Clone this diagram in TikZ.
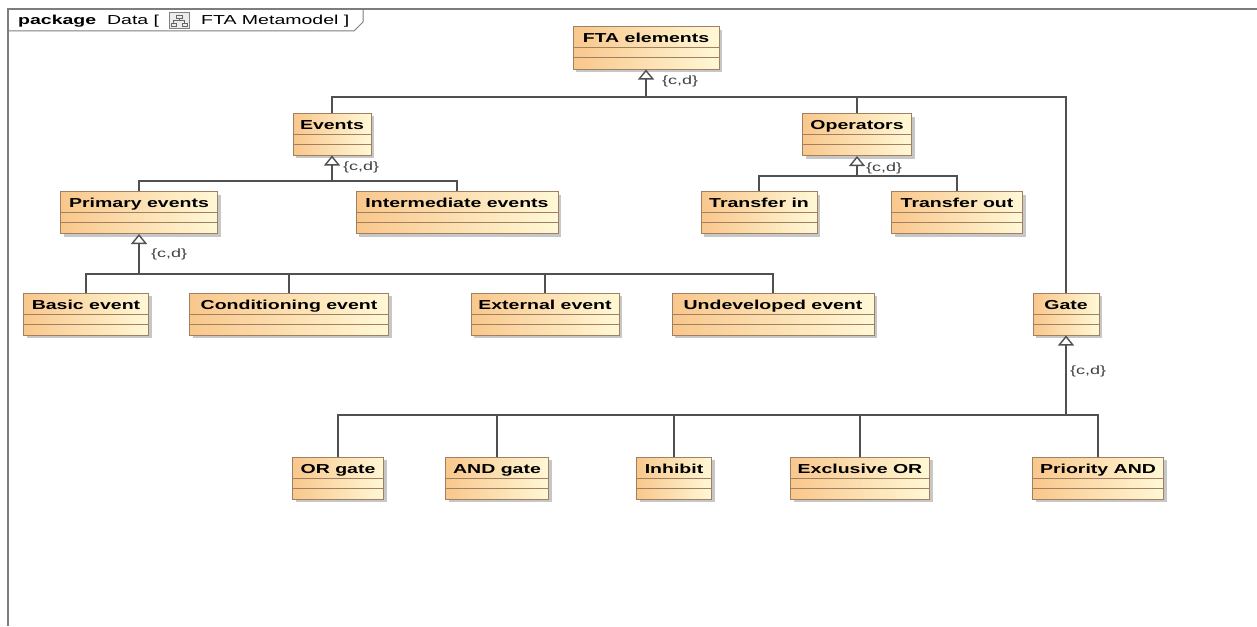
\documentclass[tikz,border=0pt]{standalone}
\usepackage{fontspec}
\setmainfont{Liberation Sans}
\newfontfamily\uml[FakeStretch=1.5]{Liberation Sans}
\usetikzlibrary{arrows.meta,shadows}
\definecolor{boxL}{RGB}{249,199,140}
\definecolor{boxR}{RGB}{255,248,214}
\definecolor{boxB}{RGB}{160,128,96}
\definecolor{lineC}{RGB}{80,80,80}
\definecolor{frameC}{RGB}{125,125,125}
\begin{document}
\begin{tikzpicture}[x=1pt,y=-1pt,
  umlbox/.style={draw=boxB, line width=1pt, left color=boxL, right color=boxR,
    minimum height=42pt, inner sep=0pt, text height=16pt, text depth=26pt,
    font=\uml\bfseries\fontsize{13}{15}\selectfont,
    general shadow={fill=black!22, shadow xshift=3pt, shadow yshift=-3pt},
    path picture={
      \draw[boxB, line width=1pt] ([yshift=-21pt]path picture bounding box.north west) -- ([yshift=-21pt]path picture bounding box.north east);
      \draw[boxB, line width=1pt] ([yshift=-31pt]path picture bounding box.north west) -- ([yshift=-31pt]path picture bounding box.north east);}},
  conn/.style={draw=lineC, line width=1.4pt},
  gen/.style={conn, -{Triangle[open, length=10pt, width=16pt, fill=white]}},
  cd/.style={font=\uml\fontsize{12}{14}\selectfont, text=black!75, inner sep=0pt, anchor=west},
  tabtext/.style={font=\uml\fontsize{13}{15}\selectfont, inner sep=0pt, anchor=base west}
]
\useasboundingbox (0,0) rectangle (1257,626);
% frame
\draw[frameC, line width=2pt] (8,626) -- (8,9) -- (1257,9);
\draw[frameC, line width=1pt] (8,31) -- (354,31) -- (363,22) -- (363,9);
\node[tabtext, name=tab1] at (18,25) {\textbf{package}\ \ Data [};
\node[draw=gray, fill=gray!15, line width=0.6pt, minimum width=20pt, minimum height=16pt, inner sep=0pt, name=icon] at (179,20.5) {};
\draw[gray!80!black, line width=0.6pt] (176,15) rectangle (182,18) (179,18) -- (179,20.5) (173.5,20.5) -- (184.5,20.5) (173.5,20.5) -- (173.5,23) (184.5,20.5) -- (184.5,23) (171,23) rectangle (176,26) (182,23) rectangle (187,26);
\node[tabtext, name=tab2] at (201,25) {FTA Metamodel ]};
% classes
\node[umlbox, minimum width=146pt] (fta) at (646,48) {FTA elements};
\node[umlbox, minimum width=78pt] (events) at (332,134) {Events};
\node[umlbox, minimum width=109pt] (operators) at (857,134.5) {Operators};
\node[umlbox, minimum width=157pt] (primary) at (139,212.5) {Primary events};
\node[umlbox, minimum width=202pt] (intermediate) at (457,212.5) {Intermediate events};
\node[umlbox, minimum width=116pt] (tin) at (759,212.5) {Transfer in};
\node[umlbox, minimum width=131pt] (tout) at (957,212.5) {Transfer out};
\node[umlbox, minimum width=125pt] (basic) at (86,314) {Basic event};
\node[umlbox, minimum width=199pt] (cond) at (289,314) {Conditioning event};
\node[umlbox, minimum width=148pt] (ext) at (545,314) {External event};
\node[umlbox, minimum width=202pt] (undev) at (773,314) {Undeveloped event};
\node[umlbox, minimum width=66pt] (gate) at (1066,314) {Gate};
\node[umlbox, minimum width=91pt] (orgate) at (338,478) {OR gate};
\node[umlbox, minimum width=103pt] (andgate) at (497,478) {AND gate};
\node[umlbox, minimum width=75pt] (inhibit) at (674,478) {Inhibit};
\node[umlbox, minimum width=139pt] (xor) at (860,478) {Exclusive OR};
\node[umlbox, minimum width=131pt] (pand) at (1098,478) {Priority AND};
% FTA elements
\coordinate (j0) at (646,97);
\draw[conn] (events.north) -- (events.north |- j0) -- (gate.north |- j0) -- (gate.north);
\draw[conn] (operators.north) -- (operators.north |- j0);
\draw[gen] (j0) -- (fta.south);
\node[cd, name=cd0] at (662,81) {\{c,d\}};
% Events
\coordinate (j1) at (332,181);
\draw[conn] (primary.north) -- (primary.north |- j1) -- (intermediate.north |- j1) -- (intermediate.north);
\draw[gen] (j1) -- (events.south);
\node[cd, name=cd1] at (343,167) {\{c,d\}};
% Operators
\coordinate (j2) at (857,176);
\draw[conn] (tin.north) |- (j2) -| (tout.north);
\draw[gen] (j2) -- (operators.south);
\node[cd, name=cd2] at (866,168) {\{c,d\}};
% Primary events
\coordinate (j3) at (139,274);
\draw[conn] (basic.north) -- (basic.north |- j3) -- (undev.north |- j3) -- (undev.north);
\draw[conn] (cond.north) -- (cond.north |- j3);
\draw[conn] (ext.north) -- (ext.north |- j3);
\draw[gen] (j3) -- (primary.south);
\node[cd, name=cd3] at (151,254) {\{c,d\}};
% Gate
\coordinate (j4) at (1066,415);
\draw[conn] (orgate.north) -- (orgate.north |- j4) -- (pand.north |- j4) -- (pand.north);
\draw[conn] (andgate.north) -- (andgate.north |- j4);
\draw[conn] (inhibit.north) -- (inhibit.north |- j4);
\draw[conn] (xor.north) -- (xor.north |- j4);
\draw[gen] (j4) -- (gate.south);
\node[cd, name=cd4] at (1070,371) {\{c,d\}};
\end{tikzpicture}
\end{document}
